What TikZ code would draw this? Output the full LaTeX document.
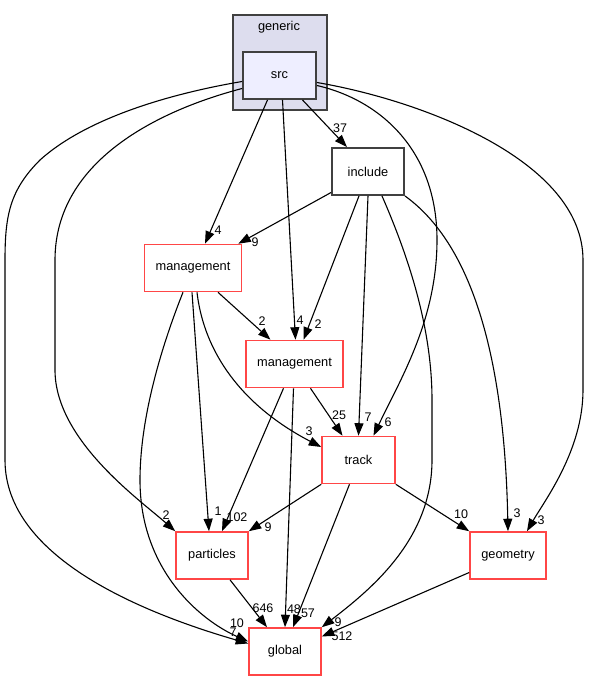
\documentclass[tikz,border=0pt]{standalone}
\usepackage{fontspec}
\setmainfont{Liberation Sans}
\usetikzlibrary{arrows.meta}
\definecolor{dirred}{RGB}{255,70,70}
\definecolor{dirgray}{RGB}{64,64,64}
\definecolor{clusterfill}{RGB}{221,221,238}
\definecolor{srcfill}{RGB}{238,238,255}
\tikzset{
  dirbox/.style={draw=dirred,line width=1.6pt,fill=white,minimum height=47pt,inner sep=0pt},
  topbox/.style={draw=dirgray,line width=1.9pt,minimum height=47pt,inner sep=0pt},
  dep/.style={line width=1.1pt,-{Triangle[length=12.5pt,width=9pt]}},
  lbl/.style={inner sep=0pt,font=\fontsize{12.5}{14}\selectfont},
}

\begin{document}
\begin{tikzpicture}[x=1pt,y=-1pt,font=\fontsize{12.8}{15}\selectfont]
  \useasboundingbox (0,0) rectangle (589,681);

  % cluster
  \node[draw=dirgray,fill=clusterfill,line width=1.5pt,minimum width=94pt,minimum height=95pt,inner sep=0pt] (generic) at (280,62.5) {};
  \node (generictxt) at (279,27) {generic};
  \node[topbox,fill=srcfill,minimum width=73pt] (src) at (279.5,75.5) {src};

  % directories
  \node[topbox,fill=white,minimum width=72pt] (include) at (368,171.5) {include};
  \node[dirbox,minimum width=97pt] (mgmtA) at (193,268) {management};
  \node[dirbox,minimum width=97pt] (mgmtB) at (294.5,364) {management};
  \node[dirbox,minimum width=73pt] (track) at (358.5,460) {track};
  \node[dirbox,minimum width=72pt] (particles) at (212,555.5) {particles};
  \node[dirbox,minimum width=72pt] (global) at (285,651.5) {global};
  \node[dirbox,minimum width=76pt] (geometry) at (508,555.5) {geometry};

  % from src
  \draw[dep] ([xshift=23pt]src.south) -- ([xshift=-21pt]include.north);
  \draw[dep] ([xshift=-12pt]src.south) -- ([xshift=12pt]mgmtA.north);
  \draw[dep] ([xshift=3pt]src.south) -- ([xshift=1pt]mgmtB.north);
  \draw[dep] ([yshift=-10pt]src.east) .. controls (380,100) and (437,150) .. (437,240)
    .. controls (437,320) and (400,380) .. ([xshift=15pt]track.north);
  \draw[dep] ([yshift=-7pt]src.east) .. controls (420,100) and (583,160) .. (583,260)
    -- (583,390) .. controls (583,450) and (545,500) .. ([xshift=19pt]geometry.north);
  \draw[dep] ([yshift=-13pt]src.west) .. controls (160,110) and (55,160) .. (55,260)
    -- (55,370) .. controls (55,440) and (140,500) .. (particles.north west);
  \draw[dep] ([yshift=-6pt]src.west) .. controls (180,92) and (90,115) .. (40,160)
    .. controls (10,190) and (5,215) .. (5,260) -- (5,460)
    .. controls (5,560) and (150,615) .. ([yshift=8pt]global.west);

  % from include
  \draw[dep] ([yshift=-21pt]include.west) -- ([xshift=-4pt]mgmtA.north east);
  \draw[dep] ([xshift=-9pt]include.south) -- ([xshift=9pt]mgmtB.north);
  \draw[dep] (include.south) -- (track.north);
  \draw[dep] ([xshift=14pt]include.south) .. controls (410,260) and (432,330) .. (432,400)
    -- (432,460) .. controls (432,540) and (370,590) .. (global.north east);
  \draw[dep] (include.south east) .. controls (480,250) and (505,380) .. (geometry.north);

  % from management
  \draw[dep] ([xshift=25pt]mgmtA.south) -- ([xshift=-24pt]mgmtB.north);
  \draw[dep] ([xshift=4pt]mgmtA.south) .. controls (205,360) and (250,410) .. ([yshift=13pt]track.west);
  \draw[dep] ([xshift=-1pt]mgmtA.south) -- ([xshift=-3pt]particles.north);
  \draw[dep] ([xshift=-10pt]mgmtA.south) .. controls (160,350) and (140,420) .. (140,480)
    .. controls (140,570) and (200,620) .. ([yshift=10pt]global.west);
  \draw[dep] ([xshift=16pt]mgmtB.south) -- ([xshift=-16pt]track.north);
  \draw[dep] ([xshift=-11pt]mgmtB.south) -- ([xshift=10pt]particles.north);
  \draw[dep] ([xshift=-1pt]mgmtB.south) -- (global.north);

  % from track and the rest
  \draw[dep] (track.south west) -- (particles.north east);
  \draw[dep] ([xshift=-9pt]track.south) -- ([xshift=8pt]global.north);
  \draw[dep] (track.south east) -- (geometry.north west);
  \draw[dep] ([xshift=18pt]particles.south) -- ([xshift=-18pt]global.north);
  \draw[dep] ([yshift=-17pt]geometry.west) -- ([yshift=15pt]global.east);

  % edge counts
  \foreach \x/\y/\t [count=\i] in {340/128/37, 218/230/4, 255/242/9, 300/320/4, 318/324/2,
      262/321/2, 339/415/25, 309/431/3, 368/417/7, 388/422/6, 166/515/2, 218/511/1,
      237/517/102, 268/527/9, 461/514/10, 517/513/3, 541/520/3, 263/608/646, 294/609/48,
      308/613/57, 237/623/10, 233/632/7, 338/622/9, 342/636/512}
    \node[lbl] (cnt\i) at (\x,\y) {\t};
\end{tikzpicture}
\end{document}
